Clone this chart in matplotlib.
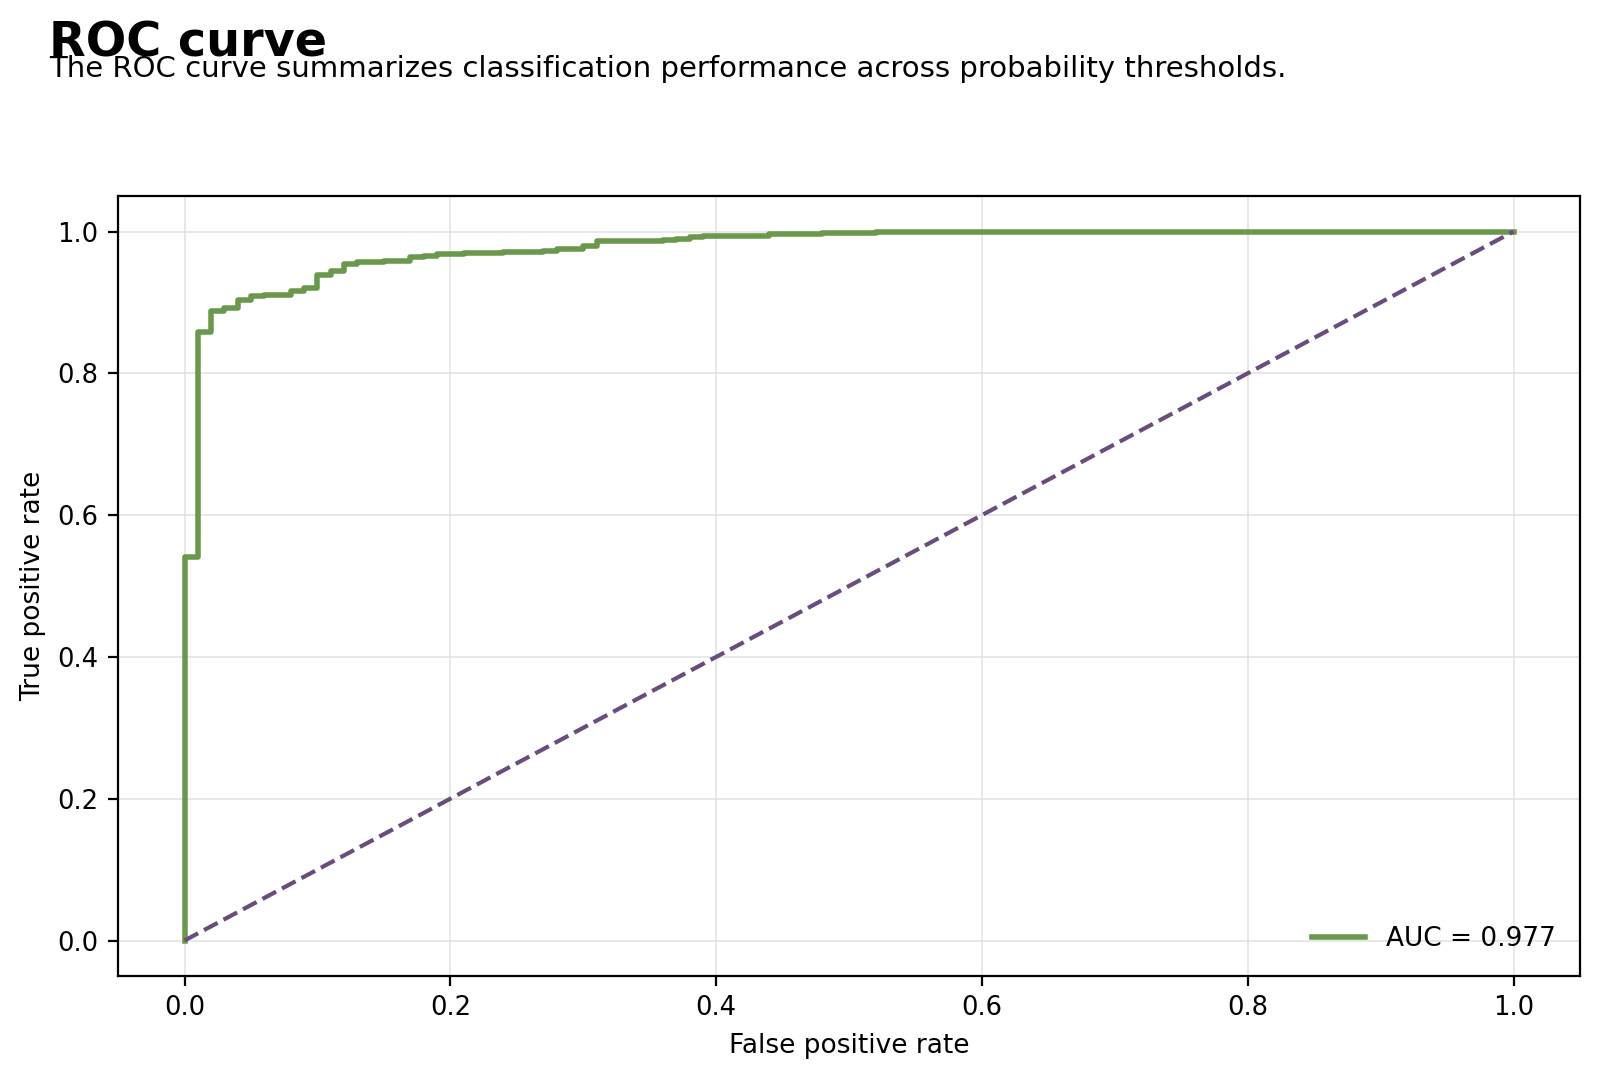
import numpy as np
import matplotlib.pyplot as plt

# ROC points (tpr level reached at each fpr)
fpr = [0.0, 0.0, 0.01, 0.02, 0.03, 0.04, 0.05, 0.06, 0.08, 0.09, 0.10, 0.11,
       0.12, 0.13, 0.15, 0.17, 0.18, 0.19, 0.21, 0.24, 0.27, 0.28, 0.30, 0.31,
       0.36, 0.37, 0.38, 0.39, 0.44, 0.48, 0.52, 1.0]
tpr = [0.0, 0.541, 0.858, 0.888, 0.892, 0.904, 0.909, 0.911, 0.916, 0.920,
       0.939, 0.944, 0.954, 0.957, 0.959, 0.964, 0.966, 0.968, 0.970, 0.971,
       0.972, 0.975, 0.980, 0.986, 0.988, 0.990, 0.992, 0.994, 0.996, 0.998,
       1.0, 1.0]
auc_value = 0.977
chance = [0.0, 1.0]

fig = plt.figure(figsize=(8, 5.395), dpi=200)
ax = fig.add_axes([0.0738, 0.0955, 0.9137, 0.7228])

ax.plot(fpr, tpr, drawstyle='steps-post', color='#6a994e', linewidth=2.0,
        label='AUC = %.3f' % auc_value)
ax.plot(chance, chance, linestyle='--', color='#6b4c7e', linewidth=1.5)

ax.set_xlim(-0.05, 1.05)
ax.set_ylim(-0.05, 1.05)
ax.set_xticks(np.arange(0, 1.01, 0.2))
ax.set_yticks(np.arange(0, 1.01, 0.2))
ax.tick_params(labelsize=9.3)
ax.grid(True, color='#dddddd', linewidth=0.6, alpha=0.8)
ax.set_axisbelow(True)
ax.set_xlabel('False positive rate', fontsize=9.5)
ax.set_ylabel('True positive rate', fontsize=9.5)
ax.legend(loc='lower right', frameon=False, fontsize=9.5)

fig.text(0.0306, 0.948, 'ROC curve', fontsize=17.2, fontweight='bold', ha='left', va='baseline')
fig.text(0.0306, 0.929, 'The ROC curve summarizes classification performance across probability thresholds.',
         fontsize=10.5, ha='left', va='baseline')

fig.savefig('out.png', dpi=200)
